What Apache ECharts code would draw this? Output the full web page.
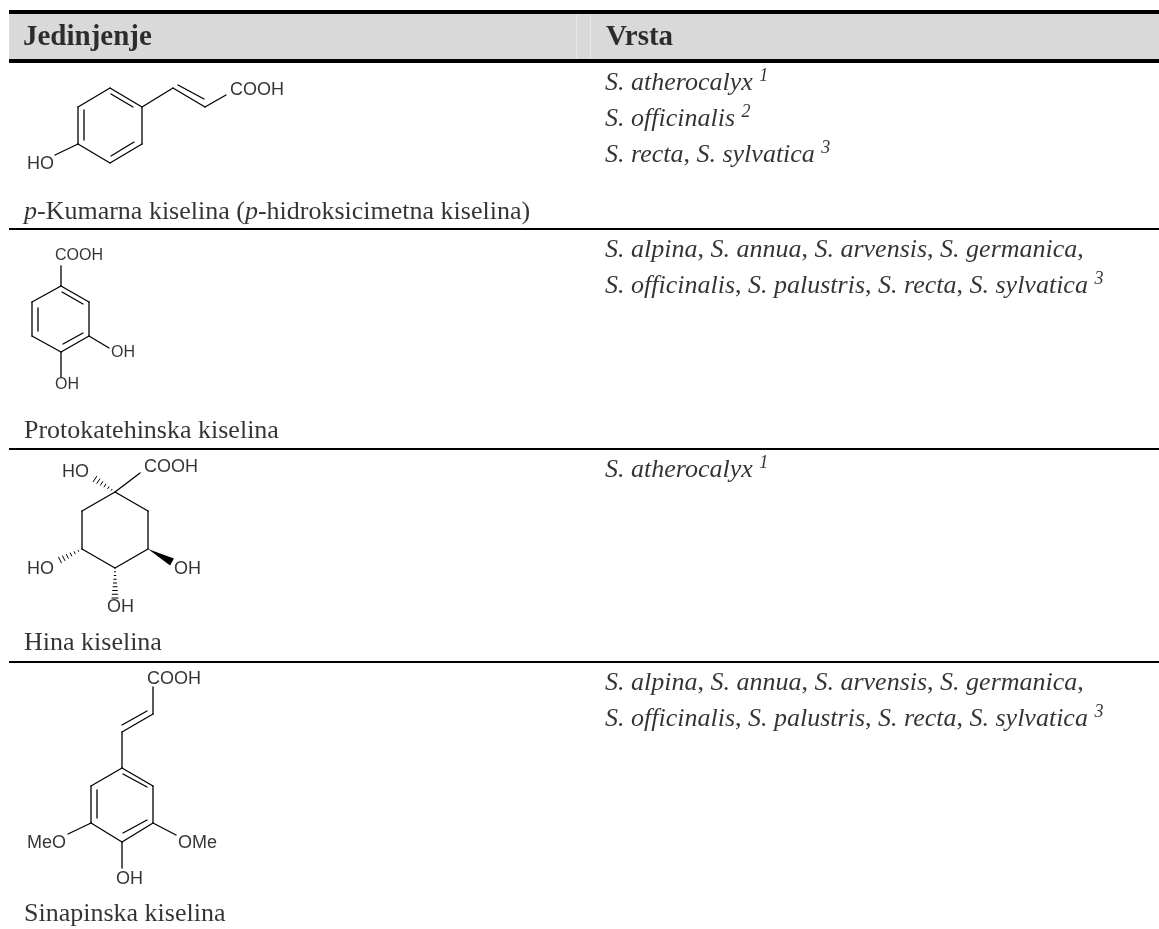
<!DOCTYPE html>
<html>
<head>
<meta charset="utf-8">
<title>Jedinjenje / Vrsta</title>
<script src="https://cdn.jsdelivr.net/npm/echarts@6/dist/echarts.min.js"></script>
<style>
    html, body { margin: 0; padding: 0; background: #fff; }
    #main { width: 1159px; height: 929px; }
</style>
</head>
<body>
<div id="main"></div>
<script>
// table frame, as [x0, y0, x1, y1]
const headerBand = [[9, 14, 1159, 59]];
const headerGaps = [[576, 14, 577, 59], [590, 14, 591, 59]];
const rules = [[9, 10, 1159, 14], [9, 59, 1159, 63], [9, 228, 1159, 230], [9, 448, 1159, 450], [9, 661, 1159, 663]];

// bonds of the four structures, as [x0, y0, x1, y1]
const kumarnaBonds = [
    [110, 88, 142, 107], [142, 107, 142, 144], [142, 144, 110, 163], [110, 163, 78, 144], [78, 144, 78, 107], [78, 107, 110, 88],
    [111, 94, 133, 107], [84, 110, 84, 140], [111, 156, 134, 142],
    [142, 107, 173, 88], [173, 88, 205, 107], [205, 107, 226, 95], [178, 85, 204, 99],
    [78, 144, 55, 155]
];
const protokatehinskaBonds = [
    [61, 286, 89, 302], [89, 302, 89, 336], [89, 336, 61, 352], [61, 352, 32, 336], [32, 336, 32, 302], [32, 302, 61, 286],
    [62, 292, 83, 304], [38, 308, 38, 331], [63, 344, 83, 333],
    [61, 286, 61, 266], [89, 336, 109, 348], [61, 352, 61, 377]
];
const hinaBonds = [
    [115, 492, 148, 511], [148, 511, 148, 549], [148, 549, 115, 568], [115, 568, 82, 549], [82, 549, 82, 511], [82, 511, 115, 492],
    [115, 492, 140, 473]
];
const hinaHashes = [[115, 492, 95, 479], [82, 549, 60, 560], [115, 568, 115, 598]];
const hinaWedges = [[148, 549, 172, 562]];
const sinapinskaBonds = [
    [122, 768, 153, 786], [153, 786, 153, 823], [153, 823, 122, 842], [122, 842, 91, 823], [91, 823, 91, 786], [91, 786, 122, 768],
    [123, 774, 147, 787], [97, 790, 97, 818], [123, 833, 147, 820],
    [122, 768, 122, 732], [122, 732, 153, 714], [153, 714, 153, 687], [122, 725, 147, 711],
    [91, 823, 68, 834], [153, 823, 176, 835], [122, 842, 122, 868]
];

// atom labels, as [x, y, text]
const atomLabels = [
    [27, 164, 'HO'], [230, 90, 'COOH'],
    [144, 467, 'COOH'], [62, 472, 'HO'], [27, 569, 'HO'], [107, 607, 'OH'], [174, 569, 'OH'],
    [147, 679, 'COOH'], [27, 843, 'MeO'], [178, 843, 'OMe'], [116, 879, 'OH']
];
const smallAtomLabels = [[55, 256, 'COOH'], [111, 353, 'OH'], [55, 385, 'OH']];

// table texts, as [x, y, text]
const headers = [[23, 38, 'Jedinjenje'], [606, 38, 'Vrsta']];
const compounds = [
    [24, 212, '{i|p}-Kumarna kiselina ({i|p}-hidroksicimetna kiselina)'],
    [24, 431, 'Protokatehinska kiselina'],
    [24, 643, 'Hina kiselina'],
    [24, 914, 'Sinapinska kiselina']
];
const species = [
    [605, 83, '{i|S. atherocalyx }{s|1}'],
    [605, 119, '{i|S. officinalis }{s|2}'],
    [605, 155, '{i|S. recta}, {i|S. sylvatica }{s|3}'],
    [605, 250, '{i|S. alpina}, {i|S. annua}, {i|S. arvensis}, {i|S. germanica},'],
    [605, 286, '{i|S. officinalis}, {i|S. palustris}, {i|S. recta}, {i|S. sylvatica }{s|3}'],
    [605, 470, '{i|S. atherocalyx }{s|1}'],
    [605, 683, '{i|S. alpina}, {i|S. annua}, {i|S. arvensis}, {i|S. germanica},'],
    [605, 719, '{i|S. officinalis}, {i|S. palustris}, {i|S. recta}, {i|S. sylvatica }{s|3}']
];

const SANS = '"Liberation Sans", Arial, sans-serif';
const SERIF = '"Liberation Serif", "Times New Roman", serif';

function rectSeries(data, color) {
    return {
        type: 'custom',
        silent: true,
        clip: false,
        data: data,
        renderItem(params, api) {
            const a = api.coord([api.value(0), api.value(1)]);
            const b = api.coord([api.value(2), api.value(3)]);
            return {
                type: 'rect',
                shape: { x: a[0], y: a[1], width: b[0] - a[0], height: b[1] - a[1] },
                style: { fill: color }
            };
        }
    };
}

function bondSeries(data) {
    return {
        type: 'custom',
        silent: true,
        clip: false,
        data: data,
        renderItem(params, api) {
            const a = api.coord([api.value(0), api.value(1)]);
            const b = api.coord([api.value(2), api.value(3)]);
            return {
                type: 'line',
                shape: { x1: a[0], y1: a[1], x2: b[0], y2: b[1] },
                style: { stroke: '#000', lineWidth: 1.3, lineCap: 'round' }
            };
        }
    };
}

function hashSeries(data) {
    return {
        type: 'custom',
        silent: true,
        clip: false,
        data: data,
        renderItem(params, api) {
            const a = api.coord([api.value(0), api.value(1)]);
            const b = api.coord([api.value(2), api.value(3)]);
            const dx = b[0] - a[0], dy = b[1] - a[1];
            const len = Math.sqrt(dx * dx + dy * dy);
            const nx = -dy / len, ny = dx / len;
            const count = Math.round(len / 4);
            const children = [];
            for (let i = 0; i <= count; i++) {
                const t = i / count;
                const half = 0.5 + 3 * t;
                const cx = a[0] + dx * t, cy = a[1] + dy * t;
                children.push({
                    type: 'line',
                    shape: { x1: cx - nx * half, y1: cy - ny * half, x2: cx + nx * half, y2: cy + ny * half },
                    style: { stroke: '#000', lineWidth: 1 }
                });
            }
            return { type: 'group', children: children };
        }
    };
}

function wedgeSeries(data) {
    return {
        type: 'custom',
        silent: true,
        clip: false,
        data: data,
        renderItem(params, api) {
            const a = api.coord([api.value(0), api.value(1)]);
            const b = api.coord([api.value(2), api.value(3)]);
            const dx = b[0] - a[0], dy = b[1] - a[1];
            const len = Math.sqrt(dx * dx + dy * dy);
            const nx = -dy / len * 4, ny = dx / len * 4;
            return {
                type: 'polygon',
                shape: { points: [[a[0], a[1]], [b[0] + nx, b[1] + ny], [b[0] - nx, b[1] - ny]] },
                style: { fill: '#000' }
            };
        }
    };
}

function textSeries(data, label) {
    return {
        type: 'scatter',
        silent: true,
        clip: false,
        symbolSize: 0,
        data: data,
        z: 5,
        label: Object.assign({
            show: true,
            position: 'right',
            distance: 0,
            color: '#000',
            formatter: p => p.value[2]
        }, label)
    };
}

const serifRich = {
    i: { fontFamily: SERIF, fontSize: 26, fontStyle: 'italic', color: '#000', lineHeight: 32 },
    s: { fontFamily: SERIF, fontSize: 18, fontStyle: 'italic', color: '#000', lineHeight: 22, verticalAlign: 'top' }
};

const myChart = echarts.init(document.getElementById('main'), null, { renderer: 'canvas' });
myChart.setOption({
    animation: false,
    backgroundColor: '#fff',
    grid: { left: 0, right: 0, top: 0, bottom: 0 },
    xAxis: { type: 'value', min: 0, max: 1159, show: false },
    yAxis: { type: 'value', min: 0, max: 929, inverse: true, show: false },
    tooltip: { show: false },
    series: [
        rectSeries(headerBand, '#d9d9d9'),
        rectSeries(headerGaps, '#e6e6e6'),
        rectSeries(rules, '#000'),
        bondSeries(kumarnaBonds),
        bondSeries(protokatehinskaBonds),
        bondSeries(hinaBonds),
        bondSeries(sinapinskaBonds),
        hashSeries(hinaHashes),
        wedgeSeries(hinaWedges),
        textSeries(atomLabels, { fontFamily: SANS, fontSize: 18 }),
        textSeries(smallAtomLabels, { fontFamily: SANS, fontSize: 16 }),
        textSeries(headers, { fontFamily: SERIF, fontSize: 29, fontWeight: 'bold' }),
        textSeries(compounds, { fontFamily: SERIF, fontSize: 26, lineHeight: 32, rich: serifRich }),
        textSeries(species, { fontFamily: SERIF, fontSize: 26, lineHeight: 32, rich: serifRich })
    ]
});
</script>
</body>
</html>
